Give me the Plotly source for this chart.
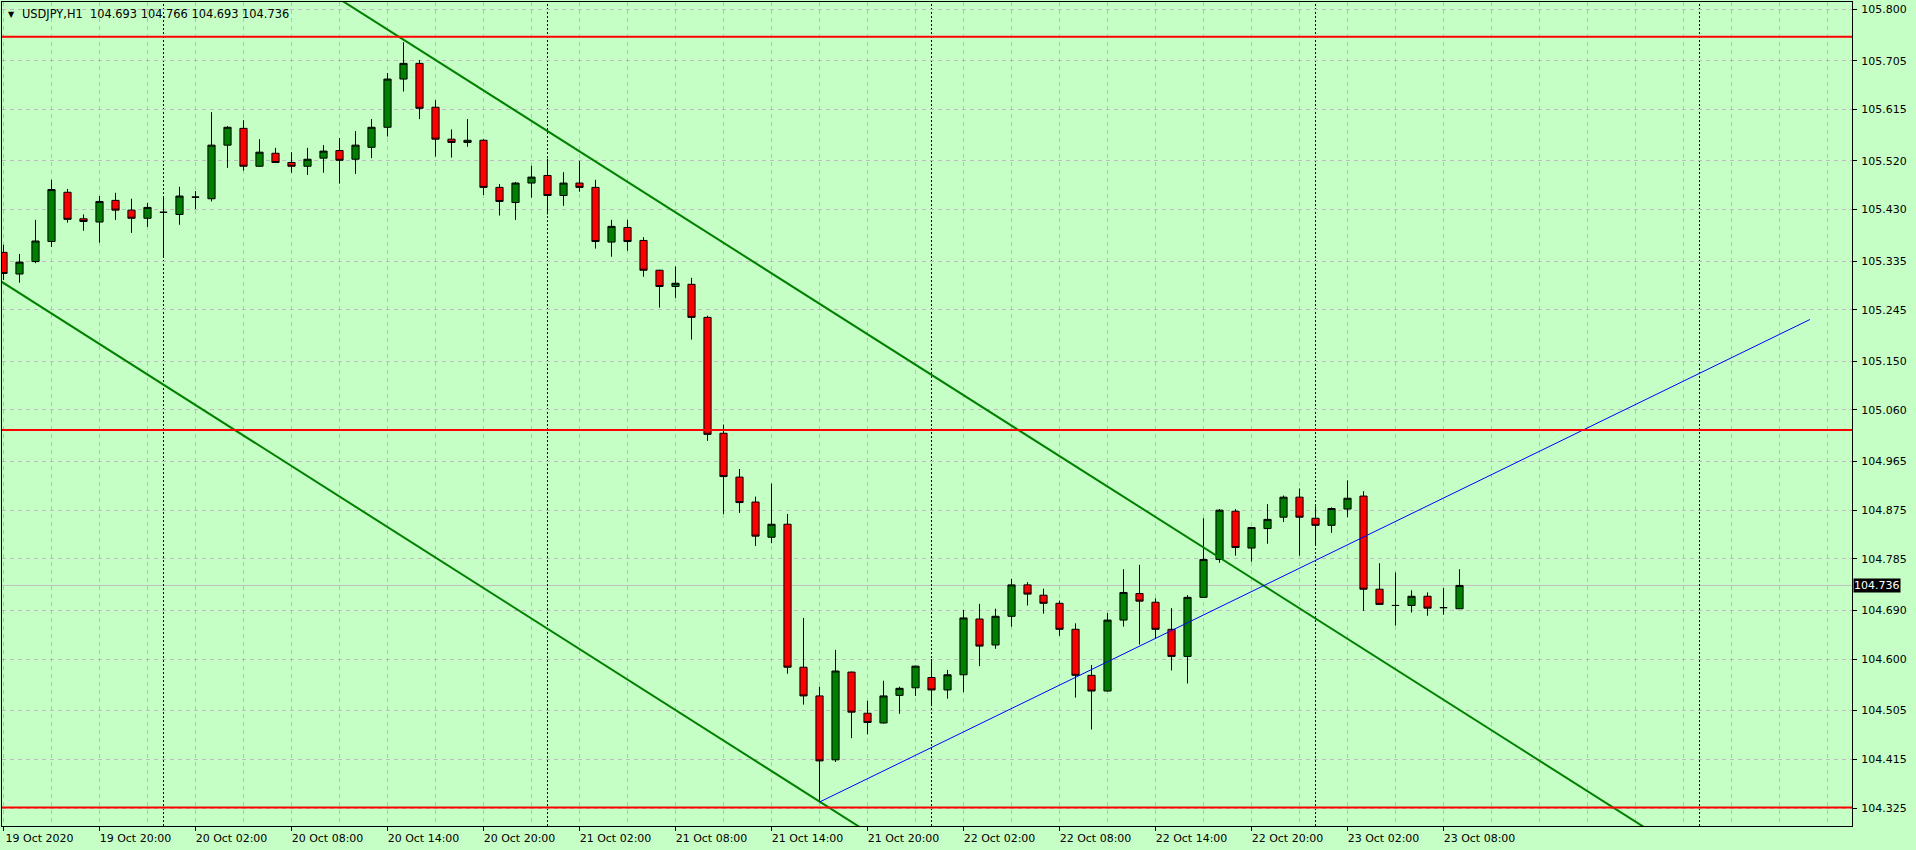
import plotly.graph_objects as go

# ---- data (bar index 0 = 19 Oct 2020 14:00, H1 bars) ----
opens = [105.351, 105.311, 105.334, 105.371, 105.462, 105.413, 105.407, 105.447, 105.429, 105.414,
         105.425, 105.421, 105.453, 105.450, 105.549, 105.580, 105.510, 105.534, 105.517, 105.510,
         105.525, 105.539, 105.523, 105.545, 105.582, 105.671, 105.700, 105.619, 105.560, 105.554,
         105.558, 105.471, 105.443, 105.479, 105.493, 105.456, 105.479, 105.471, 105.370, 105.397,
         105.373, 105.318, 105.288, 105.292, 105.231, 105.017, 104.936, 104.890, 104.825, 104.849,
         104.585, 104.532, 104.414, 104.576, 104.500, 104.482, 104.533, 104.547, 104.566, 104.543,
         104.571, 104.674, 104.626, 104.679, 104.737, 104.718, 104.703, 104.655, 104.570, 104.541,
         104.672, 104.721, 104.705, 104.655, 104.605, 104.714, 104.784, 104.873, 104.805, 104.841,
         104.862, 104.899, 104.860, 104.847, 104.877, 104.901, 104.729, 104.699, 104.699, 104.716,
         104.695, 104.693]
highs = [105.365, 105.348, 105.411, 105.485, 105.468, 105.421, 105.455, 105.461, 105.450, 105.442,
         105.452, 105.472, 105.464, 105.610, 105.584, 105.595, 105.560, 105.544, 105.536, 105.544,
         105.549, 105.562, 105.575, 105.597, 105.682, 105.739, 105.706, 105.632, 105.578, 105.597,
         105.560, 105.477, 105.481, 105.511, 105.524, 105.499, 105.520, 105.485, 105.411, 105.411,
         105.379, 105.319, 105.325, 105.304, 105.234, 105.033, 104.951, 104.900, 104.924, 104.868,
         104.676, 104.549, 104.617, 104.577, 104.523, 104.560, 104.549, 104.588, 104.600, 104.580,
         104.691, 104.702, 104.693, 104.748, 104.742, 104.730, 104.708, 104.666, 104.589, 104.685,
         104.766, 104.774, 104.712, 104.694, 104.718, 104.860, 104.877, 104.877, 104.844, 104.886,
         104.902, 104.915, 104.882, 104.880, 104.930, 104.910, 104.777, 104.760, 104.727, 104.723,
         104.731, 104.766]
lows = [105.300, 105.295, 105.331, 105.361, 105.406, 105.391, 105.369, 105.411, 105.387, 105.398,
        105.341, 105.402, 105.431, 105.445, 105.507, 105.502, 105.509, 105.516, 105.498, 105.494,
        105.498, 105.478, 105.496, 105.525, 105.565, 105.648, 105.597, 105.528, 105.526, 105.546,
        105.457, 105.419, 105.411, 105.452, 105.421, 105.437, 105.463, 105.358, 105.343, 105.354,
        105.306, 105.249, 105.267, 105.190, 105.003, 104.868, 104.870, 104.809, 104.814, 104.573,
        104.516, 104.336, 104.410, 104.454, 104.461, 104.481, 104.499, 104.532, 104.513, 104.527,
        104.539, 104.587, 104.619, 104.660, 104.699, 104.684, 104.643, 104.529, 104.470, 104.540,
        104.660, 104.627, 104.638, 104.579, 104.555, 104.713, 104.778, 104.791, 104.780, 104.813,
        104.853, 104.791, 104.809, 104.833, 104.862, 104.689, 104.700, 104.662, 104.686, 104.680,
        104.682, 104.693]
closes = [105.312, 105.333, 105.372, 105.467, 105.412, 105.408, 105.445, 105.429, 105.414, 105.434,
          105.425, 105.455, 105.453, 105.549, 105.582, 105.510, 105.536, 105.517, 105.510, 105.523,
          105.538, 105.521, 105.549, 105.582, 105.671, 105.700, 105.617, 105.560, 105.554, 105.558,
          105.471, 105.445, 105.479, 105.490, 105.456, 105.479, 105.471, 105.371, 105.399, 105.371,
          105.318, 105.288, 105.294, 105.231, 105.015, 104.937, 104.889, 104.827, 104.849, 104.585,
          104.532, 104.412, 104.578, 104.502, 104.483, 104.532, 104.546, 104.587, 104.543, 104.571,
          104.676, 104.624, 104.679, 104.737, 104.720, 104.703, 104.655, 104.570, 104.541, 104.672,
          104.723, 104.707, 104.655, 104.605, 104.714, 104.784, 104.875, 104.806, 104.843, 104.858,
          104.899, 104.862, 104.847, 104.878, 104.897, 104.729, 104.701, 104.699, 104.716, 104.694,
          104.695, 104.736]
bars = list(range(len(opens)))

x_tick_pos = [0, 6, 12, 18, 24, 30, 36, 42, 48, 54, 60, 66, 72, 78, 84, 90]
x_tick_text = ["19 Oct 2020", "19 Oct 20:00", "20 Oct 02:00", "20 Oct 08:00", "20 Oct 14:00",
               "20 Oct 20:00", "21 Oct 02:00", "21 Oct 08:00", "21 Oct 14:00", "21 Oct 20:00",
               "22 Oct 02:00", "22 Oct 08:00", "22 Oct 14:00", "22 Oct 20:00", "23 Oct 02:00",
               "23 Oct 08:00"]
y_tick_vals = [105.800, 105.705, 105.615, 105.520, 105.430, 105.335, 105.245, 105.150, 105.060,
               104.965, 104.875, 104.785, 104.690, 104.600, 104.505, 104.415, 104.325]
y_tick_text = ["%.3f" % v for v in y_tick_vals]

day_separators = [10, 34, 58, 82, 106]
red_levels = [105.749, 105.023, 104.326]
last_price = 104.736

upper_channel_x = [10, 115]
upper_channel_y = [106.025, 104.056]
lower_channel_x = [-2, 60]
lower_channel_y = [105.332, 104.168]
blue_line_x = [51, 112.9]
blue_line_y = [104.336, 105.227]

title_text = "USDJPY,H1  104.693 104.766 104.693 104.736"

BG = "#c6ffc6"
GRID = "#c4b6c4"

fig = go.Figure()

fig.add_trace(go.Candlestick(
    x=bars, open=opens, high=highs, low=lows, close=closes,
    increasing=dict(line=dict(color="black", width=1), fillcolor="#008000"),
    decreasing=dict(line=dict(color="black", width=1), fillcolor="#ff0000"),
    whiskerwidth=0, showlegend=False, hoverinfo="skip",
))

for xs, ys, col, w in [(upper_channel_x, upper_channel_y, "#008000", 2),
                       (lower_channel_x, lower_channel_y, "#008000", 2),
                       (blue_line_x, blue_line_y, "#0000ff", 1)]:
    fig.add_trace(go.Scatter(x=xs, y=ys, mode="lines", line=dict(color=col, width=w),
                             showlegend=False, hoverinfo="skip"))

fig.add_hline(y=last_price, line=dict(color="#c0c0c0", width=1), layer="below")
for lv in red_levels:
    fig.add_hline(y=lv, line=dict(color="#ff0000", width=2))
for d in day_separators:
    fig.add_vline(x=d, line=dict(color="black", width=1, dash="2px,2px"), layer="below")

fig.update_layout(
    width=1916, height=850,
    margin=dict(l=2, r=64, t=2, b=24),
    paper_bgcolor=BG, plot_bgcolor=BG,
    boxgap=0.36,
    showlegend=False,
    xaxis=dict(
        range=[-0.094, 115.53], rangeslider=dict(visible=False),
        tickmode="array", tickvals=x_tick_pos, ticktext=x_tick_text,
        ticks="outside", ticklen=4, tickcolor="black",
        ticklabelshift=36, ticklabelstandoff=-2,
        tickfont=dict(family="DejaVu Sans", size=11, color="black"),
        showgrid=True, gridcolor=GRID, griddash="4px,4px", gridwidth=1,
        minor=dict(dtick=3, tick0=0, showgrid=True, gridcolor=GRID, griddash="4px,4px",
                   ticks=""),
        showline=True, linecolor="black", linewidth=1, mirror=True,
        zeroline=False, fixedrange=True,
    ),
    yaxis=dict(
        range=[104.2918, 105.8133], side="right",
        tickmode="array", tickvals=y_tick_vals, ticktext=y_tick_text,
        ticks="outside", ticklen=4, tickcolor="black",
        ticklabelstandoff=2,
        tickfont=dict(family="DejaVu Sans", size=11, color="black"),
        showgrid=True, gridcolor=GRID, griddash="4px,4px", gridwidth=1,
        showline=True, linecolor="black", linewidth=1, mirror=True,
        zeroline=False, fixedrange=True,
    ),
)

fig.add_annotation(xref="paper", yref="y", x=1, y=last_price, xanchor="left", yanchor="middle",
                   text="%.3f" % last_price, showarrow=False, xshift=1,
                   bgcolor="black", font=dict(family="DejaVu Sans", size=11, color="white"),
                   borderpad=0)
fig.add_annotation(xref="paper", yref="paper", x=0, y=1, xanchor="left", yanchor="top",
                   text="▼", showarrow=False, xshift=4, yshift=-6,
                   font=dict(family="DejaVu Sans", size=8, color="black"))
fig.add_annotation(xref="paper", yref="paper", x=0, y=1, xanchor="left", yanchor="top",
                   text=title_text, showarrow=False, xshift=18, yshift=-3,
                   font=dict(family="DejaVu Sans", size=11.4, color="black"))

fig.write_html("out.html", config={"displayModeBar": False},
               post_script="document.body.style.margin='0px';document.body.style.overflow='hidden';")
